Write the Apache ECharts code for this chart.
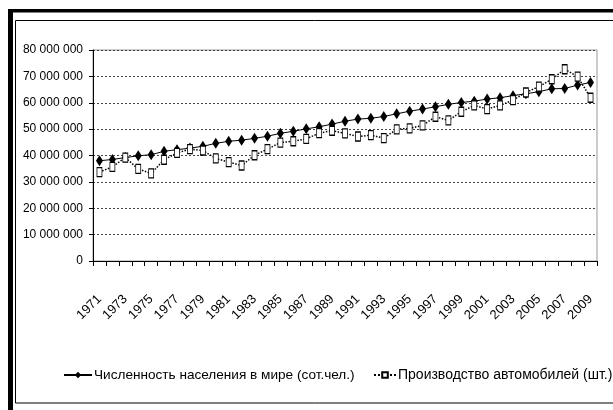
<!DOCTYPE html>
<html>
<head>
<meta charset="utf-8">
<script src="https://cdn.jsdelivr.net/npm/echarts@6/dist/echarts.min.js"></script>
<style>
html,body{margin:0;padding:0;background:#fff;}
#c{width:613px;height:410px;}
</style>
</head>
<body>
<div id="c"></div>
<script>
const years = [];
for (let y = 1971; y <= 2009; y++) years.push(String(y));

const populationM = [38.0, 38.5, 39.2, 39.9, 40.3, 41.6, 42.2, 42.8, 43.5, 44.6,
  45.4, 45.8, 46.5, 47.3, 48.4, 49.2, 50.1, 50.9, 51.9, 53.0,
  53.8, 54.1, 54.8, 55.8, 56.8, 57.6, 58.5, 59.4, 60.1, 60.6,
  61.4, 61.9, 62.7, 63.4, 64.2, 65.3, 65.4, 66.7, 67.7];

const carsM = [33.7, 35.7, 39.2, 34.9, 33.2, 38.4, 41.0, 42.4, 41.9, 38.9,
  37.5, 36.2, 40.1, 42.4, 44.9, 45.4, 46.3, 48.5, 49.4, 48.4,
  47.2, 47.7, 46.6, 49.9, 50.3, 51.4, 54.7, 53.3, 56.6, 59.0,
  57.6, 59.0, 61.0, 63.9, 66.1, 68.9, 72.7, 69.9, 61.9];

const seriesNames = ['Численность населения в мире (сот.чел.)', 'Производство автомобилей (шт.)'];
const yMax = 80000000, yStep = 10000000;

const population = populationM.map(v => Math.round(v * 1e6));
const cars = carsM.map(v => Math.round(v * 1e6));

const FONT = '"Liberation Sans", Arial, sans-serif';
const fmt = v => String(v).replace(/\B(?=(\d{3})+(?!\d))/g, ' ');

const chart = echarts.init(document.getElementById('c'), null, {renderer: 'canvas'});
chart.setOption({
  animation: false,
  backgroundColor: '#fff',
  textStyle: {fontFamily: FONT, color: '#000'},
  graphic: [
    {type: 'rect', shape: {x: 8, y: 9, width: 620, height: 3.5}, style: {fill: '#000'}, silent: true},
    {type: 'rect', shape: {x: 8, y: 9, width: 5, height: 410}, style: {fill: '#000'}, silent: true},
    {type: 'rect', shape: {x: 15.5, y: 20.5, width: 700, height: 382.5}, style: {fill: 'none', stroke: '#000', lineWidth: 1}, silent: true}
  ],
  grid: {left: 93, right: 16, top: 50, bottom: 149, show: true, borderColor: '#999', borderWidth: 1, backgroundColor: 'transparent'},
  legend: [
    {
      left: 58, top: 363,
      itemWidth: 28, itemHeight: 8, itemGap: 0,
      textStyle: {fontFamily: FONT, fontSize: 13.6, color: '#000', padding: [0, 0, 0, -3]},
      data: [seriesNames[0]]
    },
    {
      left: 368, top: 363,
      itemWidth: 22, itemHeight: 7, itemGap: 0,
      textStyle: {fontFamily: FONT, fontSize: 14, color: '#000', padding: [0, 0, 0, -3]},
      data: [seriesNames[1]]
    }
  ],
  xAxis: {
    type: 'category',
    data: years,
    boundaryGap: true,
    axisLine: {lineStyle: {color: '#000', width: 1}},
    axisTick: {show: true, interval: 0, length: 5, lineStyle: {color: '#000'}},
    axisLabel: {interval: 1, rotate: 45, margin: 36, fontFamily: FONT, fontSize: 13, color: '#000'},
    splitLine: {show: false}
  },
  yAxis: {
    type: 'value',
    min: 0, max: yMax, interval: yStep,
    axisLine: {show: true, lineStyle: {color: '#000', width: 1}},
    axisTick: {show: true, length: 4, lineStyle: {color: '#000'}},
    axisLabel: {formatter: fmt, fontFamily: FONT, fontSize: 12, color: '#000', margin: 10},
    splitLine: {show: true, lineStyle: {color: '#444', type: [2, 2], width: 1}}
  },
  series: [
    {
      name: seriesNames[0], type: 'line', data: population,
      showAllSymbol: true,
      symbol: 'diamond', symbolSize: [7, 11],
      itemStyle: {color: '#000'},
      lineStyle: {color: '#000', width: 1}
    },
    {
      name: seriesNames[1], type: 'line', data: cars,
      showAllSymbol: true,
      symbol: 'rect', symbolSize: [5, 9],
      itemStyle: {color: '#fff', borderColor: '#000', borderWidth: 1},
      lineStyle: {color: '#000', width: 1.5, type: 'dotted'}
    }
  ]
});
</script>
</body>
</html>
